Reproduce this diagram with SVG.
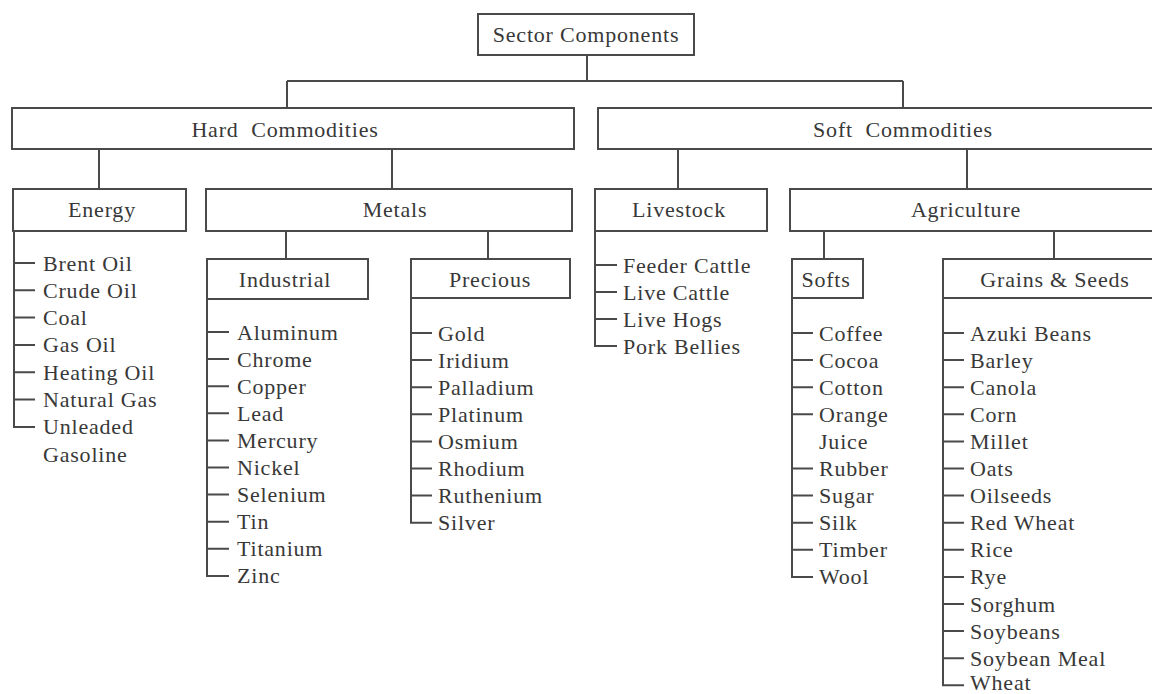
<svg xmlns="http://www.w3.org/2000/svg" width="1152" height="694" viewBox="0 0 1152 694">
<style>
.bg{fill:#fff}
.box{fill:#fff;stroke:#4a4a4a;stroke-width:2}
.ln{fill:none;stroke:#4a4a4a;stroke-width:2}
.lbl{text-anchor:middle}
</style>
<rect class="bg" x="0" y="0" width="1152" height="694"/>
<g id="connectors">
<path class="ln" d="M587 55V81M287 81H903M287 81V108M903 81V108"/>
<path class="ln" d="M99 149V189M392 149V189M678 149V189M967 149V189"/>
<path class="ln" d="M286 231V259M488 231V259M824 231V259M1054 231V259"/>
<path class="ln" d="M14 231V427H35M14 263H35M14 290.3H35M14 317.6H35M14 344.9H35M14 372.2H35M14 399.5H35"/>
<path class="ln" d="M207 299V576H229M207 332H229M207 359.1H229M207 386.2H229M207 413.3H229M207 440.4H229M207 467.5H229M207 494.6H229M207 521.7H229M207 548.8H229"/>
<path class="ln" d="M411 298V522.7H432M411 333H432M411 360.1H432M411 387.2H432M411 414.3H432M411 441.4H432M411 468.5H432M411 495.6H432"/>
<path class="ln" d="M595 231V346H617M595 265H617M595 292H617M595 319H617"/>
<path class="ln" d="M792 298V576.9H813M792 333H813M792 360.1H813M792 387.2H813M792 414.3H813M792 468.5H813M792 495.6H813M792 522.7H813M792 549.8H813"/>
<path class="ln" d="M943 298V685.3H964M943 333H964M943 360.1H964M943 387.2H964M943 414.3H964M943 441.4H964M943 468.5H964M943 495.6H964M943 522.7H964M943 549.8H964M943 576.9H964M943 604H964M943 631.1H964M943 658.2H964"/>
</g>
<g font-family="Liberation Serif, serif" font-size="22" fill="#383838" letter-spacing="0.8">
<g id="sector-components"><rect class="box" x="478" y="14" width="216" height="41"/><text class="lbl" x="586" y="42">Sector Components</text></g>
<g id="hard-commodities"><rect class="box" x="12" y="108" width="562" height="41"/><text class="lbl" x="285" y="137" xml:space="preserve">Hard  Commodities</text></g>
<g id="soft-commodities"><rect class="box" x="598" y="108" width="600" height="41"/><text class="lbl" x="903" y="137" xml:space="preserve">Soft  Commodities</text></g>
<g id="energy"><rect class="box" x="13" y="189" width="173" height="42"/><text class="lbl" x="102" y="217">Energy</text></g>
<g id="metals"><rect class="box" x="206" y="189" width="366" height="42"/><text class="lbl" x="395" y="217">Metals</text></g>
<g id="livestock"><rect class="box" x="595" y="189" width="172" height="42"/><text class="lbl" x="679" y="217">Livestock</text></g>
<g id="agriculture"><rect class="box" x="790" y="189" width="400" height="42"/><text class="lbl" x="966" y="217">Agriculture</text></g>
<g id="industrial"><rect class="box" x="207" y="259" width="161" height="40"/><text class="lbl" x="285" y="287">Industrial</text></g>
<g id="precious"><rect class="box" x="411" y="259" width="159" height="39"/><text class="lbl" x="490" y="287">Precious</text></g>
<g id="softs"><rect class="box" x="792" y="259" width="71" height="39"/><text class="lbl" x="826" y="287">Softs</text></g>
<g id="grains-seeds"><rect class="box" x="943" y="259" width="250" height="39"/><text class="lbl" x="1055" y="287">Grains &amp; Seeds</text></g>
<g id="energy-items">
<text x="43" y="270.5">Brent Oil</text>
<text x="43" y="297.8">Crude Oil</text>
<text x="43" y="325.1">Coal</text>
<text x="43" y="352.4">Gas Oil</text>
<text x="43" y="379.7">Heating Oil</text>
<text x="43" y="407">Natural Gas</text>
<text x="43" y="434.3">Unleaded</text>
<text x="43" y="462">Gasoline</text>
</g>
<g id="industrial-items">
<text x="237" y="339.5">Aluminum</text>
<text x="237" y="366.6">Chrome</text>
<text x="237" y="393.7">Copper</text>
<text x="237" y="420.8">Lead</text>
<text x="237" y="447.9">Mercury</text>
<text x="237" y="475">Nickel</text>
<text x="237" y="502.1">Selenium</text>
<text x="237" y="529.2">Tin</text>
<text x="237" y="556.3">Titanium</text>
<text x="237" y="583.4">Zinc</text>
</g>
<g id="precious-items">
<text x="438" y="340.5">Gold</text>
<text x="438" y="367.6">Iridium</text>
<text x="438" y="394.7">Palladium</text>
<text x="438" y="421.8">Platinum</text>
<text x="438" y="448.9">Osmium</text>
<text x="438" y="476">Rhodium</text>
<text x="438" y="503.1">Ruthenium</text>
<text x="438" y="530.2">Silver</text>
</g>
<g id="livestock-items">
<text x="623" y="272.5">Feeder Cattle</text>
<text x="623" y="299.5">Live Cattle</text>
<text x="623" y="326.5">Live Hogs</text>
<text x="623" y="353.5">Pork Bellies</text>
</g>
<g id="softs-items">
<text x="819" y="340.5">Coffee</text>
<text x="819" y="367.6">Cocoa</text>
<text x="819" y="394.7">Cotton</text>
<text x="819" y="421.8">Orange</text>
<text x="819" y="448.9">Juice</text>
<text x="819" y="476">Rubber</text>
<text x="819" y="503.1">Sugar</text>
<text x="819" y="530.2">Silk</text>
<text x="819" y="557.3">Timber</text>
<text x="819" y="584.4">Wool</text>
</g>
<g id="grains-items">
<text x="970" y="340.5">Azuki Beans</text>
<text x="970" y="367.6">Barley</text>
<text x="970" y="394.7">Canola</text>
<text x="970" y="421.8">Corn</text>
<text x="970" y="448.9">Millet</text>
<text x="970" y="476">Oats</text>
<text x="970" y="503.1">Oilseeds</text>
<text x="970" y="530.2">Red Wheat</text>
<text x="970" y="557.3">Rice</text>
<text x="970" y="584.4">Rye</text>
<text x="970" y="611.5">Sorghum</text>
<text x="970" y="638.6">Soybeans</text>
<text x="970" y="665.7">Soybean Meal</text>
<text x="970" y="690">Wheat</text>
</g>
</g>
</svg>
